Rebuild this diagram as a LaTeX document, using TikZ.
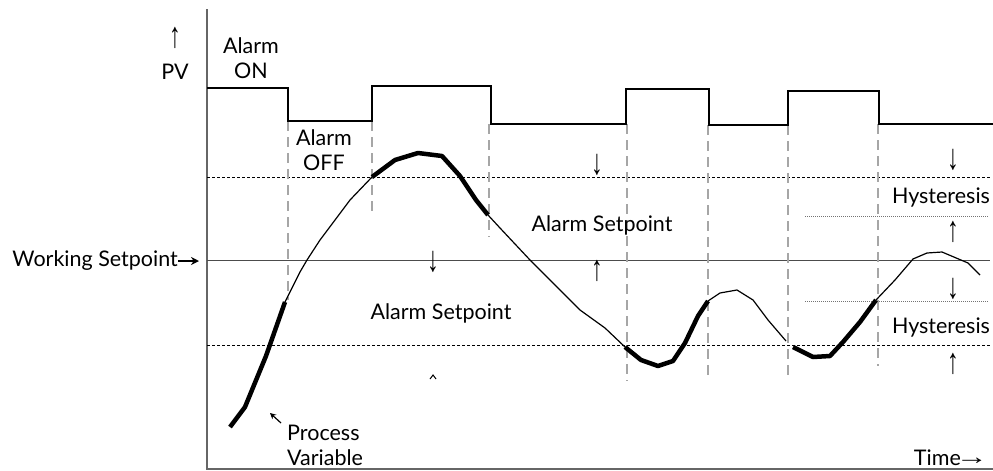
\documentclass[tikz,border=0pt]{standalone}
\usepackage{graphicx}
\usepackage{fontspec}
\setmainfont{Lato}
\newfontfamily\arr{Liberation Sans}
\newcommand\myup{\scalebox{0.65}[1]{↑}}
\newcommand\mydown{\scalebox{0.65}[1]{↓}}
\usetikzlibrary{arrows.meta}
\begin{document}
\begin{tikzpicture}[x=1pt,y=-1pt,
 lbl/.style={font=\fontsize{21.5}{25}\selectfont, inner sep=0pt, align=center},
 arw/.style={font=\arr\fontsize{36}{36}\selectfont, inner sep=0pt},
 axisline/.style={draw=black!60, line width=1.2pt},
 alarmline/.style={line width=1.8pt},
 spline/.style={dash pattern=on 3pt off 2pt, line width=0.9pt},
 wspline/.style={draw=black!70, line width=1pt},
 vdash/.style={draw=black!35, line width=1.8pt, dash pattern=on 10pt off 6pt},
 pvthin/.style={line width=1.2pt, line join=round},
 pvthick/.style={line width=4.5pt, line join=round},
 hyst/.style={draw=black!55, line width=0.8pt, dash pattern=on 1pt off 1pt}]
\useasboundingbox (0,0) rectangle (993,471);
% axes
\coordinate (ytop) at (207,9);
\coordinate (orig) at (207,469);
\coordinate (xend) at (993,469);
\draw[axisline] (ytop) -- (orig) -- (xend);
% reference lines
\coordinate (wsp) at (207,260);
\draw[spline] (207,177) -- (990,177);
\draw[wspline] (wsp) -- (990,260);
\draw[spline] (207,345) -- (990,345);
\draw[hyst] (805,216) -- (988,216);
\draw[hyst] (805,301) -- (988,301);
% vertical switching lines
\draw[vdash] (288,121) -- (288,300);
\draw[vdash] (372,121) -- (372,216);
\draw[vdash] (489,124) -- (489,237);
\draw[vdash] (627,124) -- (627,381);
\draw[vdash] (708,125) -- (708,380);
\draw[vdash] (788,125) -- (788,376);
\draw[vdash] (878,124) -- (878,366);
% alarm state
\draw[alarmline] (207,88) -- (288,88) -- (288,121) -- (372,121) -- (372,86) -- (491,86) -- (491,124) -- (626,124) -- (626,89) -- (709,89) -- (709,125) -- (788,125) -- (788,91) -- (879,91) -- (879,124) -- (993,124);
% process variable
\draw[pvthick] (230,427) -- (245,407) -- (266,356) -- (285,302);
\draw[pvthin] (285,302) -- (300,272) -- (307,260) -- (320,240) -- (350,200) -- (372,177);
\draw[pvthick] (372,177) -- (395,160) -- (418,153) -- (442,156) -- (460,176) -- (476,200) -- (488,215);
\draw[pvthin] (488,215) -- (500,228) -- (530,260) -- (580,310) -- (605,328) -- (625,347);
\draw[pvthick] (625,347) -- (641,360) -- (658,366) -- (673,361) -- (685,343) -- (698,316) -- (708,301);
\draw[pvthin] (708,301) -- (720,293) -- (737,290) -- (753,300) -- (768,320) -- (786,341);
\draw[pvthick] (793,347) -- (813,357) -- (830,356) -- (843,342) -- (860,322) -- (876,300);
\draw[pvthin] (876,300) -- (895,280) -- (913,259) -- (927,253) -- (942,252) -- (968,263) -- (980,275);
% labels
\node[arw] (pvarr) at (175,38) {\myup};
\node[lbl] (pv) at (175,72) {PV};
\node[lbl] (aon) at (251,58) {Alarm\\ON};
\node[lbl] (aoff) at (324,150) {Alarm\\OFF};
\node[lbl, anchor=east] (wsptxt) at (178,261) {Working Setpoint};
\coordinate (wsptip) at (199,261);
\draw[-{Stealth[length=8pt,width=8pt]}, line width=1.8pt] (wsptxt.east) -- (wsptip);
\node[lbl] (as1) at (602,225) {Alarm Setpoint};
\node[lbl] (as2) at (441,313) {Alarm Setpoint};
\node[arw] (d1) at (597,165) {\mydown};
\node[arw] (u1) at (597,271) {\myup};
\node[arw] (d2) at (433,262) {\mydown};
\draw[line width=1pt] (430,379) -- (433,375) -- (436,379);
\node[arw] (d3) at (953,160) {\mydown};
\node[lbl] (hy1) at (941,197) {Hysteresis};
\node[arw] (u3) at (953,232) {\myup};
\node[arw] (d4) at (953,289) {\mydown};
\node[lbl] (hy2) at (941,327) {Hysteresis};
\node[arw] (u4) at (953,364) {\myup};
\node[lbl, align=left, anchor=west] (pvname) at (287,445) {Process\\Variable};
\coordinate (pvtip) at (270,413);
\draw[-{Stealth[length=6pt,width=6pt]}, line width=1.2pt] (281,423) -- (pvtip);
\node[lbl, anchor=east] (time) at (988,458) {Time\kern-5pt{\arr\fontsize{32}{32}\selectfont\raisebox{1.5pt}{\scalebox{1}[0.7]{→}}}};
\end{tikzpicture}
\end{document}
